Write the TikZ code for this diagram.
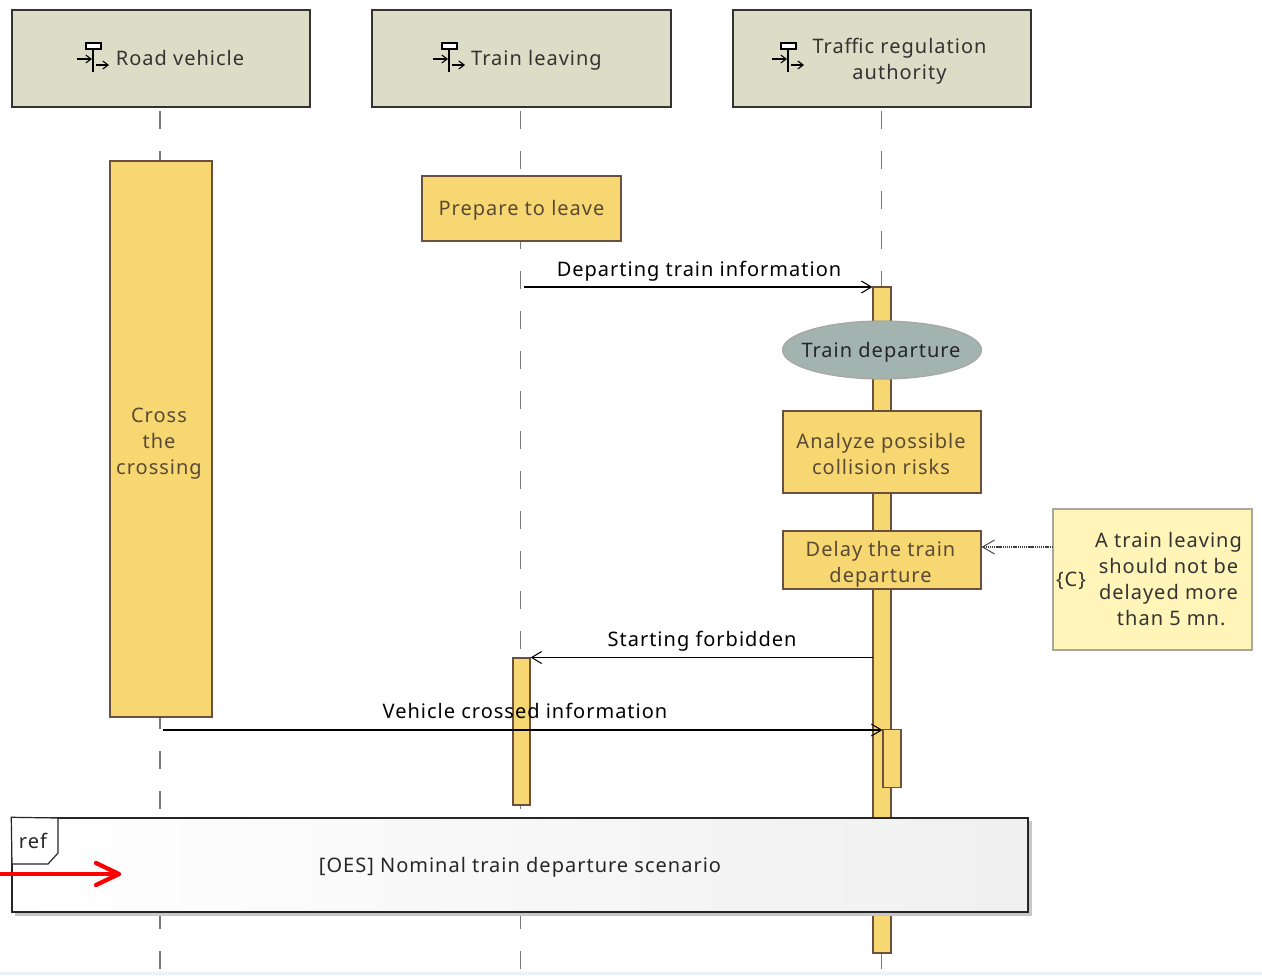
\documentclass[tikz,border=0pt]{standalone}
\usepackage{fontspec}
\setmainfont[LetterSpace=5]{Noto Sans}
\usetikzlibrary{arrows.meta,shapes.geometric,calc}
\definecolor{hdrfill}{HTML}{DDDCC6}
\definecolor{actfill}{HTML}{F6D771}
\definecolor{actline}{HTML}{6B5040}
\definecolor{elfill}{HTML}{A3B3B0}
\definecolor{notefill}{HTML}{FFF5B8}
\definecolor{notedraw}{HTML}{A8A8A0}
\definecolor{acttext}{HTML}{5A4A35}
\definecolor{lifeline}{HTML}{777777}
\definecolor{edgeblue}{HTML}{EAF3F8}
\def\U{0.75pt}
\tikzset{
 x=0.75pt,y=-0.75pt,
 txt/.style={inner sep=0pt,yshift=-1.4pt,font=\fontsize{15pt}{19.5pt}\selectfont,align=center},
 hdr/.style={draw=black!80,line width=0.9pt,fill=hdrfill,minimum width=#1*\U,minimum height=97*\U,inner sep=0pt},
 actbox/.style n args={2}{draw=actline,line width=0.9pt,fill=actfill,minimum width=#1*\U,minimum height=#2*\U,inner sep=0pt},
 life/.style={draw=lifeline,line width=1pt,dash pattern=on 13.5pt off 16.5pt},
 msg/.style={draw=black,line width=1pt,-{Straight Barb[length=7.5pt,width=9pt,line width=0.8pt]}},
 pics/mcicon/.style={code={
  \draw[line width=2.2pt] (0,-15) -- (0,14);
  \draw[line width=1.3pt,fill=white] (-7,-15) rectangle (8,-9);
  \draw[line width=0.9pt,-{Straight Barb[length=4pt,width=6pt,line width=0.8pt]}] (-16,1) -- (-1,1);
  \draw[line width=0.9pt,-{Straight Barb[length=4pt,width=6pt,line width=0.8pt]}] (3,7) -- (16,7);
 }}
}
\begin{document}
\begin{tikzpicture}
\useasboundingbox (0,0) rectangle (1262,975);
\fill[white] (0,0) rectangle (1262,975);
\fill[edgeblue] (0,972) rectangle (1262,975);
% headers
\node[hdr=298] (h1) at (161,58.5) {};
\node[hdr=299] (h2) at (521.5,58.5) {};
\node[hdr=298] (h3) at (882,58.5) {};
% lifelines
\coordinate (e1) at (160,972);
\coordinate (e2) at (520.5,972);
\coordinate (e3) at (881.5,972);
\draw[life] (160,111) -- (e1);
\draw[life] (520.5,111) -- (e2);
\draw[life] (881.5,111) -- (e3);
\pic at (93,58) {mcicon};
\pic at (449,58) {mcicon};
\pic at (788,58) {mcicon};
\node[txt,text=black!80] (t1) at (180,56) {Road vehicle};
\node[txt,text=black!80] (t2) at (536.5,58) {Train leaving};
\node[txt,text=black!80] (t3) at (899.5,59) {Traffic regulation\\authority};
% activity boxes
\node[actbox={102}{556}] (cross) at (161,439) {};
\node[txt,text=acttext] (tcross) at (159,442) {Cross\\the\\crossing};
\node[actbox={199}{65}] (prep) at (521.5,208.5) {};
\node[txt,text=acttext] (tprep) at (521.5,208.5) {Prepare to leave};
\node[actbox={18}{666}] (a3) at (882,620) {};
\node[actbox={17}{147}] (a2) at (521.5,731.5) {};
\node[actbox={18}{58}] (a4) at (892,758.5) {};
\node[ellipse,draw=notedraw,line width=0.9pt,fill=elfill,minimum width=199*\U,minimum height=58*\U,inner sep=0pt] (dep) at (882,350) {};
\node[txt,text=black!85] (tdep) at (881,350) {Train departure};
\node[actbox={198}{82}] (ana) at (882,452) {};
\node[txt,text=acttext] (tana) at (881,452.5) {Analyze possible\\collision risks};
\node[actbox={198}{58}] (del) at (882,560) {};
\node[txt,text=acttext] (tdel) at (880.5,562) {Delay the train\\departure};
% note
\node[draw=notedraw,line width=0.9pt,fill=notefill,minimum width=199*\U,minimum height=141*\U,inner sep=0pt] (note) at (1152.5,579.5) {};
\node[txt,text=black!80] (tnote) at (1168.5,577.5) {A train leaving\\should not be\\delayed more\\\hspace*{4pt}than 5 mn.};
\node[txt,text=black!80] (tc) at (1071,579) {\{C\}};
\coordinate (nc) at (1053,547);
\draw[draw=black!75,line width=1pt,dash pattern=on 1pt off 0.6pt,-{Straight Barb[length=9pt,width=10.5pt,line width=0.7pt]}] (nc) -- (nc -| del.east);
% messages
\coordinate (m1) at (524,287);
\draw[msg] (m1) -- (m1 -| a3.west);
\node[txt] (l1) at (699,269) {Departing train information};
\coordinate (m2) at (873,657.5);
\draw[msg] (m2) -- (m2 -| a2.east);
\node[txt] (l2) at (702,639) {Starting forbidden};
\coordinate (m3) at (163,730);
\draw[msg] (m3) -- (m3 -| a4.west);
\node[txt] (l3) at (525,709) {Vehicle crossed information};
% ref frame
\fill[black!22] (15,821) rectangle (1032,916);
\node[draw=black!85,line width=1.1pt,left color=white,right color=black!6,minimum width=1016*\U,minimum height=94*\U,inner sep=0pt] (ref) at (520,865) {};
\node[txt,text=black!85] (tref) at (520,865) {[OES] Nominal train departure scenario};
\draw[black!85,line width=0.9pt,fill=white] (ref.north west) -- (58,818) -- (58,853) -- (48,864) -- (12,864) -- cycle;
\node[txt,text=black!85] (tr) at (33,839) {ref};
% red arrow
\coordinate (r0) at (0,874);
\coordinate (r1) at (119,874);
\draw[red,line width=3pt,line cap=round,line join=round] (r0) -- (r1);
\draw[red,line width=3.2pt,line cap=round,line join=round] (96,863) -- (r1) -- (96,885);
\end{tikzpicture}
\end{document}
